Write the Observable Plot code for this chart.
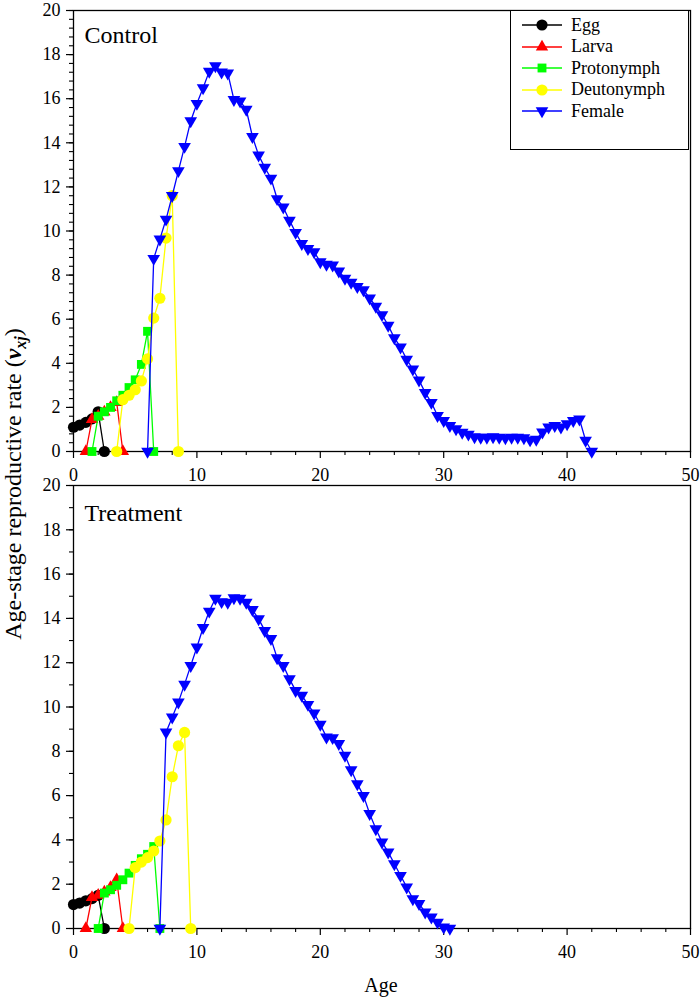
<!DOCTYPE html>
<html><head><meta charset="utf-8">
<script src="https://cdn.jsdelivr.net/npm/d3@7"></script>
<script src="https://cdn.jsdelivr.net/npm/@observablehq/plot@0.6"></script>
<style>
body{margin:0;background:#fff;font-family:"Liberation Serif","Times New Roman",serif;color:#000;}
#wrap{position:relative;width:700px;height:1003px;overflow:hidden;}
#wrap svg text, #wrap svg tspan{font-family:"Liberation Serif","Times New Roman",serif;}
.panel{position:absolute;left:0;}
#ylab{position:absolute;left:15px;top:484px;transform:translate(-50%,-50%) rotate(-90deg);white-space:nowrap;font-size:24px;}
#xlab{position:absolute;left:381px;top:985px;transform:translate(-50%,-50%);font-size:20px;}
#legend{position:absolute;left:510px;top:10px;width:179px;height:140px;border:1px solid #000;box-sizing:border-box;background:#fff;}
.lrow{position:absolute;left:11px;height:20px;display:flex;align-items:center;font-size:18px;font-family:"Liberation Serif","Times New Roman",serif;}
.lrow svg{margin-right:9px;}
</style></head>
<body><div id="wrap">
<div id="top" class="panel" style="top:0px"></div>
<div id="bot" class="panel" style="top:476px"></div>
<div id="legend"></div>
<div id="ylab">Age-stage reproductive rate (<b><i>v</i></b><sub style="font-size:16px"><b><i>xj</i></b></sub>)</div>
<div id="xlab">Age</div>
</div>
<script>
// ---------- data ----------
const stages = ["Egg", "Larva", "Protonymph", "Deutonymph", "Female"];
const stageColors = ["#000000", "#ff0000", "#00ff00", "#ffff00", "#0000ff"];

// Control: [age, v]
const ctrlEgg = [[0,1.1],[0.5,1.2],[1,1.32],[1.5,1.48],[2,1.8],[2.5,0]];
const ctrlLarva = [[1,0],[1.5,1.45],[2,1.6],[2.5,1.8],[3,2.0],[3.5,2.23],[4,0]];
const ctrlProto = [[1.5,0],[2,1.6],[2.5,1.8],[3,2.0],[3.5,2.3],[4,2.55],[4.5,2.9],[5,3.25],[5.5,3.95],[6,5.45],[6.5,0]];
const ctrlDeuto = [[3.5,0],[4,2.35],[4.5,2.55],[5,2.8],[5.5,3.2],[6,4.2],[6.5,6.05],[7,6.95],[7.5,9.68],[8,11.6],[8.5,0]];
const ctrlFemale = [[6,0],[6.5,8.75],[7,9.63],[7.5,10.53],[8,11.6],[8.5,12.73],[9,13.83],[9.5,14.99],[10,15.78],[10.5,16.49],[11,17.24],[11.5,17.49],[12,17.2],[12.5,17.16],[13,15.96],[13.5,15.89],[14,15.51],[14.5,14.28],[15,13.44],[15.5,12.88],[16,12.39],[16.5,11.46],[17,11.08],[17.5,10.48],[18,9.93],[18.5,9.43],[19,9.2],[19.5,9.05],[20,8.6],[20.5,8.48],[21,8.45],[21.5,8.18],[22,7.85],[22.5,7.67],[23,7.48],[23.5,7.33],[24,6.95],[24.5,6.58],[25,6.2],[25.5,5.72],[26,5.15],[26.5,4.73],[27,4.18],[27.5,3.73],[28,3.23],[28.5,2.67],[29,2.22],[29.5,1.62],[30,1.4],[30.5,1.17],[31,1.02],[31.5,0.87],[32,0.78],[32.5,0.66],[33,0.64],[33.5,0.64],[34,0.66],[34.5,0.64],[35,0.62],[35.5,0.64],[36,0.64],[36.5,0.62],[37,0.52],[37.5,0.55],[38,0.88],[38.5,1.1],[39,1.17],[39.5,1.1],[40,1.25],[40.5,1.4],[41,1.47],[41.5,0.5],[42,0]];

// Treatment: [age, v]
const trtEgg = [[0,1.08],[0.5,1.15],[1,1.25],[1.5,1.35],[2,1.5],[2.5,0]];
const trtLarva = [[1,0],[1.5,1.4],[2,1.5],[2.5,1.65],[3,1.85],[3.5,2.2],[4,0]];
const trtProto = [[2,0],[2.5,1.6],[3,1.75],[3.5,1.95],[4,2.2],[4.5,2.5],[5,2.85],[5.5,3.15],[6,3.35],[6.5,3.7],[7,0]];
const trtDeuto = [[4.5,0],[5,2.75],[5.5,3.0],[6,3.2],[6.5,3.5],[7,3.95],[7.5,4.9],[8,6.85],[8.5,8.25],[9,8.85],[9.5,0]];
const trtFemale = [[7,0],[7.5,8.86],[8,9.54],[8.5,10.22],[9,11.02],[9.5,11.87],[10,12.7],[10.5,13.58],[11,14.32],[11.5,14.9],[12,14.75],[12.5,14.72],[13,14.92],[13.5,14.9],[14,14.72],[14.5,14.39],[15,13.98],[15.5,13.45],[16,13.08],[16.5,12.22],[17,11.87],[17.5,11.27],[18,10.74],[18.5,10.52],[19,10.11],[19.5,9.72],[20,9.21],[20.5,8.64],[21,8.61],[21.5,8.34],[22,7.81],[22.5,7.16],[23,6.53],[23.5,6.0],[24,5.18],[24.5,4.5],[25,3.9],[25.5,3.45],[26,2.92],[26.5,2.39],[27,1.87],[27.5,1.34],[28,1.12],[28.5,0.74],[29,0.51],[29.5,0.28],[30,0.06],[30.5,0]];

// axes
const xMajorTicks = [0, 10, 20, 30, 40, 50];
const xMinorTicks = [2,4,6,8,12,14,16,18,22,24,26,28,32,34,36,38,42,44,46,48];
const yMajorTicks = [0, 2, 4, 6, 8, 10, 12, 14, 16, 18, 20];
const yMinorTopTicks = d3.range(0, 20.001, 0.4);
const yMinorBotTicks = d3.range(0, 21, 1);
const panelTitles = ["Control", "Treatment"];

// ---------- symbols ----------
const sqrt3 = Math.sqrt(3);
const triangleDown = {
  draw(ctx, size) {
    const y = -Math.sqrt(size / (sqrt3 * 3));
    ctx.moveTo(0, -y * 2);
    ctx.lineTo(-sqrt3 * y, y);
    ctx.lineTo(sqrt3 * y, y);
    ctx.closePath();
  }
};
const stageSymbols = ["circle", "triangle", "square", "circle", triangleDown];
const stageR = [5.6, 4.6, 5.0, 5.6, 4.7];

function panel(seriesList, opts) {
  const hasAxis = typeof Plot.axisY === "function";
  const marks = [Plot.frame({stroke: "#000", strokeWidth: 1.3})];
  if (hasAxis) {
    marks.push(Plot.axisY(opts.yMinor, {tickSize: 4, tickFormat: () => "", strokeWidth: 1.1, label: null}));
    marks.push(Plot.axisY(yMajorTicks, {tickSize: 7, tickPadding: 6, strokeWidth: 1.2, label: null}));
    marks.push(Plot.axisX(xMinorTicks, {tickSize: 4, tickFormat: () => "", strokeWidth: 1.1, label: null}));
    marks.push(Plot.axisX(xMajorTicks, {tickSize: 7, tickPadding: 10, strokeWidth: 1.2, label: null}));
  }
  seriesList.forEach((data, i) => {
    marks.push(Plot.line(data, {x: d => d[0], y: d => d[1], stroke: stageColors[i], strokeWidth: 1.3}));
    marks.push(Plot.dot(data, {x: d => d[0], y: d => d[1], fill: stageColors[i], stroke: "none", r: stageR[i], symbol: stageSymbols[i]}));
  });
  marks.push(Plot.text([opts.title], {text: d => d, frameAnchor: "top-left", dx: 11, dy: opts.titleDy, fontSize: 24, textAnchor: "start", lineAnchor: "top", fill: "#000"}));
  return Plot.plot({
    width: 700,
    height: opts.height,
    marginTop: opts.marginTop,
    marginBottom: opts.marginBottom,
    marginLeft: 73,
    marginRight: 10,
    style: {background: "transparent", fontFamily: "'Liberation Serif','Times New Roman',serif", fontSize: "18px", color: "#000", overflow: "visible"},
    x: {domain: [0, 50], ...(hasAxis ? {} : {ticks: xMajorTicks, tickSize: 7, tickPadding: 10, label: null})},
    y: {domain: [0, 20], ...(hasAxis ? {} : {ticks: yMajorTicks, tickSize: 7, tickPadding: 6, label: null})},
    marks
  });
}

document.getElementById("top").appendChild(panel(
  [ctrlEgg, ctrlLarva, ctrlProto, ctrlDeuto, ctrlFemale],
  {height: 490, marginTop: 10, marginBottom: 39, yMinor: yMinorTopTicks, title: panelTitles[0], titleDy: 15}
));
document.getElementById("bot").appendChild(panel(
  [trtEgg, trtLarva, trtProto, trtDeuto, trtFemale],
  {height: 500, marginTop: 9, marginBottom: 48, yMinor: yMinorBotTicks, title: panelTitles[1], titleDy: 18}
));

// legend
const legend = document.getElementById("legend");
const rowTops = [24, 45.5, 67, 88.5, 110];
stages.forEach((name, i) => {
  const row = document.createElement("div");
  row.className = "lrow";
  row.style.top = (rowTops[i] - 10 - 10) + "px";
  const svg = d3.create("svg").attr("width", 40).attr("height", 20);
  svg.append("line").attr("x1", 0).attr("x2", 40).attr("y1", 10).attr("y2", 10).attr("stroke", stageColors[i]).attr("stroke-width", 1.3);
  const sym = typeof stageSymbols[i] === "string" ? ({circle: d3.symbolCircle, triangle: d3.symbolTriangle, square: d3.symbolSquare})[stageSymbols[i]] : stageSymbols[i];
  svg.append("path").attr("transform", "translate(20,10)").attr("d", d3.symbol(sym, Math.PI * stageR[i] * stageR[i])()).attr("fill", stageColors[i]);
  row.appendChild(svg.node());
  const span = document.createElement("span");
  span.textContent = name;
  row.appendChild(span);
  legend.appendChild(row);
});
</script>
</body></html>
